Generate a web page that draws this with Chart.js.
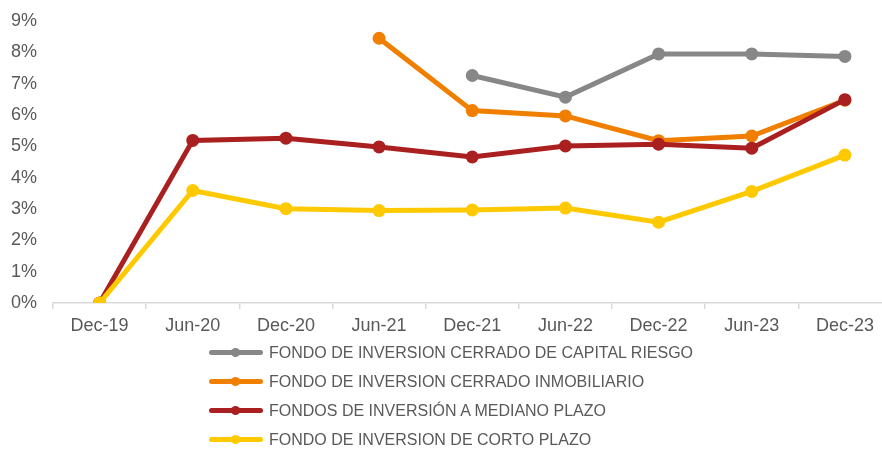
<!DOCTYPE html>
<html>
<head>
<meta charset="utf-8">
<script src="https://cdn.jsdelivr.net/npm/chart.js@4/dist/chart.umd.min.js"></script>
<style>
  html, body { margin: 0; padding: 0; background: #fff; overflow: hidden; }
  #wrap { position: relative; width: 898px; height: 450px; }
  #grafico { position: absolute; left: 0; top: 0; }
  #leyenda { position: absolute; left: 209px; top: 0; font-family: "Liberation Sans", Arial, sans-serif; font-size: 16px; color: #595959; }
  .item { position: absolute; left: 0; height: 29px; line-height: 29px; white-space: nowrap; }
  .muestra { position: absolute; left: 0; top: 12px; width: 54px; height: 5px; border-radius: 3px; }
  .punto { position: absolute; left: 22px; top: 10px; width: 9px; height: 9px; border-radius: 50%; }
  .texto { position: absolute; left: 60px; top: 0; }
</style>
</head>
<body>
<div id="wrap">
  <canvas id="grafico" width="898" height="344"></canvas>
  <div id="leyenda"></div>
</div>
<script>
// DATOS
const periodos = ["Dec-19", "Jun-20", "Dec-20", "Jun-21", "Dec-21", "Jun-22", "Dec-22", "Jun-23", "Dec-23"];
const capitalRiesgo = [null, null, null, null, 7.26, 6.57, 7.95, 7.95, 7.87];
const inmobiliario = [null, null, null, 8.45, 6.14, 5.97, 5.18, 5.33, 6.47];
const medianoPlazo = [0, 5.19, 5.26, 4.98, 4.66, 5.01, 5.07, 4.94, 6.49];
const cortoPlazo = [0, 3.59, 3.01, 2.95, 2.97, 3.03, 2.58, 3.56, 4.72];
const nombres = [
  "FONDO DE INVERSION CERRADO DE CAPITAL RIESGO",
  "FONDO DE INVERSION CERRADO INMOBILIARIO",
  "FONDOS DE INVERSIÓN A MEDIANO PLAZO",
  "FONDO DE INVERSION DE CORTO PLAZO"
];
const colores = ["#878787", "#f07f00", "#aa1f1f", "#ffc900"];

Chart.defaults.font.family = "'Liberation Sans', Arial, sans-serif";
Chart.defaults.color = "#595959";

function serie(i, valores, orden) {
  return {
    label: nombres[i],
    data: valores,
    borderColor: colores[i],
    backgroundColor: colores[i],
    pointBackgroundColor: colores[i],
    borderWidth: 5,
    pointRadius: 6.5,
    pointHoverRadius: 6.5,
    pointBorderWidth: 0,
    tension: 0,
    spanGaps: false,
    order: orden
  };
}

const series = [
  serie(0, capitalRiesgo, 4),
  serie(1, inmobiliario, 3),
  serie(2, medianoPlazo, 2),
  serie(3, cortoPlazo, 1)
];

const chart = new Chart(document.getElementById("grafico").getContext("2d"), {
  type: "line",
  data: { labels: periodos, datasets: series },
  options: {
    responsive: false,
    animation: false,
    devicePixelRatio: 1,
    layout: { padding: { top: 21, left: 0, right: 0, bottom: 0 } },
    plugins: { legend: { display: false }, tooltip: { enabled: false } },
    scales: {
      x: {
        offset: true,
        grid: { display: true, offset: true, drawOnChartArea: false, drawTicks: true, tickLength: 6, color: "#d9d9d9", lineWidth: 1.5 },
        border: { display: true, color: "#d9d9d9", width: 1.5 },
        ticks: { font: { size: 18 }, padding: 6, maxRotation: 0, autoSkip: false },
        afterFit: s => { s.height = 41; s.paddingLeft = 0; s.paddingRight = 0; }
      },
      y: {
        min: 0,
        max: 9,
        grid: { display: false, drawTicks: false },
        border: { display: false },
        ticks: { stepSize: 1, padding: 16, font: { size: 18 }, callback: v => v + "%" },
        afterFit: s => { s.width = 53; s.paddingTop = 0; s.paddingBottom = 0; }
      }
    }
  }
});

// LEYENDA
const leyendaEl = document.getElementById("leyenda");
leyendaEl.innerHTML = chart.data.datasets.map((d, i) => `
  <div class="item" style="top:${338 + i * 29.1}px">
    <span class="muestra" style="background:${d.borderColor}"></span>
    <span class="punto" style="background:${d.borderColor}"></span>
    <span class="texto">${d.label}</span>
  </div>`).join("");
</script>
</body>
</html>
